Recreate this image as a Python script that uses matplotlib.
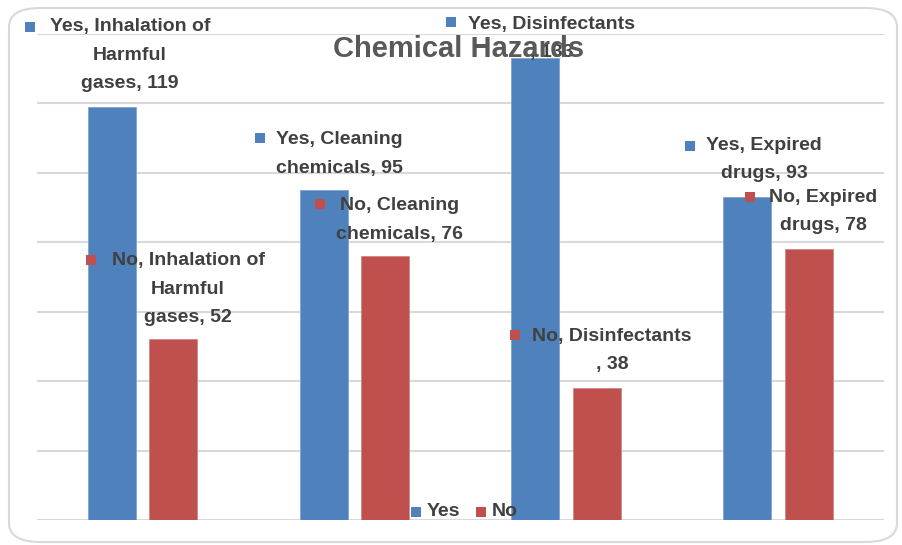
import matplotlib
matplotlib.use("Agg")
import matplotlib.pyplot as plt
from matplotlib.patches import FancyBboxPatch, Rectangle
import numpy as np

categories = ["Inhalation of\nHarmful\ngases", "Cleaning\nchemicals", "Disinfectants\n", "Expired\ndrugs"]
series_names = ["Yes", "No"]
yes_values = [119, 95, 133, 93]
no_values = [52, 76, 38, 78]
title = "Chemical Hazards"

W, H = 902, 545
BLUE = "#4F81BD"
RED = "#C0504D"
TXT = "#404040"
GRID = "#D9D9D9"
FAM = ["Liberation Sans Narrow", "Liberation Sans", "DejaVu Sans"]

fig = plt.figure(figsize=(W / 100, H / 100), dpi=100)

def fx(px):
    return px / W

def fy(py):
    return 1 - py / H

# rounded border
border = FancyBboxPatch((fx(9), fy(542)), fx(888), (542 - 8) / H,
                        boxstyle="round,pad=0,rounding_size=0.035",
                        transform=fig.transFigure, facecolor="white",
                        edgecolor=GRID, linewidth=1.5, zorder=0)
fig.add_artist(border)

ax = fig.add_axes([fx(37), fy(520), fx(884 - 37), (520 - 34) / H])
ax.set_facecolor("none")
x = np.arange(len(categories))
bw = 0.227
ax.bar(x - 0.146, yes_values, bw, color=BLUE, edgecolor="#7EA3D3", linewidth=0.6, zorder=3)
ax.bar(x + 0.144, no_values, bw, color=RED, edgecolor="#D08886", linewidth=0.6, zorder=3)
ax.set_xlim(-0.5, len(categories) - 0.5)
ax.set_ylim(0, 140)
ax.set_yticks(np.arange(0, 141, 20))
ax.grid(axis="y", color=GRID, linewidth=1.5, zorder=0)
ax.tick_params(left=False, bottom=False, labelleft=False, labelbottom=False)
for s in ax.spines.values():
    s.set_visible(False)

def label(series, cat, value, cx, y1, mx, my, color):
    lines = cat.split("\n")
    lines[0] = f"{series}, {lines[0]}"
    lines[-1] = f"{lines[-1]}, {value}"
    for i, ln in enumerate(lines):
        fig.text(fx(cx), fy(y1 + 28 * i), ln, ha="center", va="center",
                 fontsize=14, fontweight="bold", color=TXT, family=FAM, zorder=5)
    fig.add_artist(Rectangle((fx(mx - 5), fy(my + 5)), fx(10), 10 / H,
                             transform=fig.transFigure, facecolor=color,
                             edgecolor="none", zorder=5))

# label layout (pixel positions of the dragged data labels)
yes_pos = [(130, 27, 30, 27), (339, 140, 260, 138), (552, 25, 451, 22), (764, 146, 690, 146)]
no_pos = [(188, 261, 91, 260), (400, 206, 320, 204), (612, 337, 515, 335), (823, 198, 750, 197)]
for i, cat in enumerate(categories):
    cx, y1, mx, my = yes_pos[i]
    label(series_names[0], cat, yes_values[i], cx, y1, mx, my, BLUE)
    cx, y1, mx, my = no_pos[i]
    label(series_names[1], cat, no_values[i], cx, y1, mx, my, RED)

fig.text(fx(459), fy(49), title, ha="center", va="center", fontsize=21,
         fontweight="bold", color="#595959", family=FAM, zorder=10)

# legend
for name, col, mx in [(series_names[0], BLUE, 416), (series_names[1], RED, 481)]:
    fig.add_artist(Rectangle((fx(mx - 5), fy(517)), fx(10), 10 / H,
                             transform=fig.transFigure, facecolor=col,
                             edgecolor="none", zorder=6))
    fig.text(fx(mx + 11), fy(512), name, ha="left", va="center", fontsize=14,
             fontweight="bold", color=TXT, family=FAM, zorder=6)

fig.savefig("out.png", dpi=100)
